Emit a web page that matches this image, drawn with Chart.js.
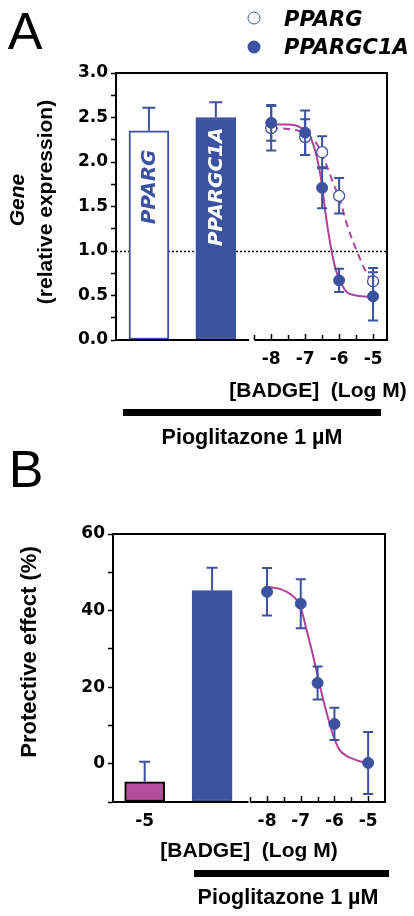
<!DOCTYPE html>
<html>
<head>
<meta charset="utf-8">
<script src="https://cdn.jsdelivr.net/npm/chart.js@4.4.1/dist/chart.umd.min.js"></script>
<style>
html,body{margin:0;padding:0;background:#fff;}
body{width:414px;height:916px;position:relative;overflow:hidden;font-family:'Liberation Sans',Arial,sans-serif;color:#000;}
canvas{position:absolute;left:0;}
.t{position:absolute;line-height:1;white-space:nowrap;transform:translate(-50%,-50%);}
.l{position:absolute;line-height:1;white-space:nowrap;transform:translate(0,-50%);}
.v{transform:translate(-50%,-50%) rotate(-90deg);}
.panel{font-size:52px;font-weight:normal;}
.bold{font-weight:bold;}
.leg{font-family:'DejaVu Sans',sans-serif;font-weight:bold;font-style:italic;font-size:21px;}
.dot{position:absolute;width:13px;height:13px;border-radius:50%;box-sizing:border-box;transform:translate(-50%,-50%);}
.bar{position:absolute;background:#000;}
</style>
</head>
<body>
<canvas id="chartA" width="414" height="380" style="top:0"></canvas>
<canvas id="chartB" width="414" height="380" style="top:460px"></canvas>

<div class="t panel" style="left:25px;top:31px">A</div>
<div class="dot" style="left:254px;top:18px;border:1.5px solid #3b52a0;background:#fff"></div>
<div class="l leg" style="left:284px;top:19px">PPARG</div>
<div class="dot" style="left:254px;top:47px;background:#3b52a0"></div>
<div class="l leg" style="left:284px;top:47px">PPARGC1A</div>

<div class="t v bold" style="left:16px;top:200px;font-size:21px;font-style:italic">Gene</div>
<div class="t v bold" style="left:44px;top:202px;font-size:21px">(relative expression)</div>
<div class="t bold" style="left:318px;top:389px;font-size:21px">[BADGE]&nbsp; (Log M)</div>
<div class="bar" style="left:123px;top:409px;width:258px;height:7px"></div>
<div class="t bold" style="left:252px;top:438px;font-size:21.5px">Pioglitazone 1 µM</div>

<div class="t panel" style="left:26px;top:469px">B</div>
<div class="t v bold" style="left:29px;top:652px;font-size:22px">Protective effect (%)</div>
<div class="t bold" style="left:249px;top:849px;font-size:21px">[BADGE]&nbsp; (Log M)</div>
<div class="bar" style="left:194px;top:870px;width:195px;height:7px"></div>
<div class="t bold" style="left:288px;top:898px;font-size:21.5px">Pioglitazone 1 µM</div>

<script>
// ---------- Panel A data ----------
const doseLogA = [-8, -7, -6.5, -6, -5];
const ppargMean = [2.38, 2.28, 2.11, 1.62, 0.66];
const ppargErr = [0.25, 0.20, 0.18, 0.20, 0.15];
const ppargc1aMean = [2.44, 2.33, 1.71, 0.67, 0.49];
const ppargc1aErr = [0.20, 0.25, 0.23, 0.13, 0.27];
const barGenesA = ['PPARG', 'PPARGC1A'];
const barMeanA = [2.35, 2.50];
const barErrA = [0.26, 0.17];
const barSlotsA = [-11.6, -9.63];
const ppargFitX = [-8, -7.5, -7.06, -6.65, -6.41, -6.17, -5.97, -5.78, -5.49, -5.2, -5];
const ppargFitY = [2.38, 2.37, 2.33, 2.20, 2.00, 1.76, 1.57, 1.31, 1.01, 0.76, 0.64];
const ppargc1aFitX = [-8, -7.5, -7.15, -6.85, -6.66, -6.51, -6.41, -6.26, -6.12, -6.0, -5.78, -5.5, -5.25, -5];
const ppargc1aFitY = [2.42, 2.42, 2.39, 2.28, 2.06, 1.76, 1.45, 1.08, 0.82, 0.69, 0.54, 0.50, 0.49, 0.48];
const doseTickValues = [-8, -7, -6, -5];
const refLevelA = 1.0;

// ---------- Panel B data ----------
const doseLogB = [-8, -7, -6.5, -6, -5];
const protectMean = [44.9, 41.8, 21.1, 10.4, 0.2];
const protectErr = [6.2, 6.4, 4.3, 4.2, 8.1];
const barGroupsB = ['BADGE 10 µM', 'Pioglitazone 1 µM'];
const barMeanB = [-4.7, 45.2];
const barErrB = [5.2, 6.0];
const barSlotsB = [-11.63, -9.63];
const barTickLabelsB = ['-5', ''];
const protectFitX = [-8, -7.6, -7.31, -7.02, -6.82, -6.62, -6.42, -6.22, -6.0, -5.83, -5.63, -5.43, -5.2, -5];
const protectFitY = [46.2, 45.6, 44.3, 41.3, 34.7, 27.7, 19.9, 12.9, 6.5, 3.4, 2.0, 1.2, 0.5, 0.1];

// ---------- styles ----------
const BLUE = '#3b52a0', MAGENTA = '#b0419a', PINK = '#b44d9b';
const TICK_FONT = {family: 'DejaVu Sans', weight: 'bold', size: 17};

const xy = (xs, ys) => xs.map((x, i) => ({x: x, y: ys[i]}));

function drawErrors(chart, index) {
  const ds = chart.data.datasets[index];
  const meta = chart.getDatasetMeta(index);
  const ys = chart.scales.y, ctx = chart.ctx;
  ctx.save();
  ctx.strokeStyle = ds.errColor || BLUE;
  ctx.lineWidth = 2;
  meta.data.forEach((el, j) => {
    const v = ds.data[j].y, e = ds.errors[j];
    const x = el.x, cap = ds.capHalf || 5;
    const top = ys.getPixelForValue(v + e);
    const bot = ys.getPixelForValue(ds.errMode === 'up' ? v : v - e);
    ctx.beginPath();
    ctx.moveTo(x, top); ctx.lineTo(x, bot);
    ctx.moveTo(x - cap, top); ctx.lineTo(x + cap, top);
    if (ds.errMode !== 'up') { ctx.moveTo(x - cap, bot); ctx.lineTo(x + cap, bot); }
    ctx.stroke();
  });
  ctx.restore();
}

const errorPlugin = {
  id: 'errbars',
  beforeDatasetDraw(chart, args) {
    const ds = chart.data.datasets[args.index];
    if (ds.errors && ds.errMode === 'both') drawErrors(chart, args.index);
  },
  afterDatasetDraw(chart, args) {
    const ds = chart.data.datasets[args.index];
    if (ds.errors && ds.errMode === 'up') drawErrors(chart, args.index);
    if (ds.inLabels) {
      const meta = chart.getDatasetMeta(args.index);
      const ctx = chart.ctx;
      const yp = chart.scales.y.getPixelForValue(ds.inLabelLevel);
      meta.data.forEach((el, j) => {
        ctx.save();
        ctx.translate(el.x + 1, yp);
        ctx.rotate(-Math.PI / 2);
        ctx.font = 'italic bold 20px "DejaVu Sans"';
        ctx.fillStyle = ds.inLabelColors[j];
        ctx.textAlign = 'center';
        ctx.textBaseline = 'middle';
        ctx.fillText(ds.inLabels[j], 0, 0);
        ctx.restore();
      });
    }
  }
};

const framePlugin = {
  id: 'frame',
  beforeDatasetsDraw(chart, args, opts) {
    if (opts.refLevel == null) return;
    const {ctx, chartArea: a, scales: {y}} = chart;
    const py = Math.round(y.getPixelForValue(opts.refLevel)) + 0.5;
    ctx.save();
    ctx.strokeStyle = '#000'; ctx.lineWidth = 1.5; ctx.setLineDash([2, 2]);
    ctx.beginPath(); ctx.moveTo(a.left, py); ctx.lineTo(a.right, py); ctx.stroke();
    ctx.restore();
  },
  afterDraw(chart, args, opts) {
    const {ctx, chartArea: a, scales: {x}} = chart;
    ctx.save();
    ctx.strokeStyle = '#000';
    ctx.lineWidth = 2;
    ctx.beginPath();
    ctx.moveTo(a.left - 1, a.top); ctx.lineTo(a.right, a.top); ctx.lineTo(a.right, a.bottom + 1);
    ctx.stroke();
    const s1 = x.getPixelForValue(opts.barEnd), s2 = x.getPixelForValue(opts.doseStart);
    ctx.beginPath();
    ctx.moveTo(a.left - 1, a.bottom); ctx.lineTo(s1, a.bottom);
    ctx.moveTo(s2, a.bottom); ctx.lineTo(a.right + 1, a.bottom);
    ctx.stroke();
    ctx.lineWidth = 1.5;
    ctx.beginPath();
    for (let v = opts.doseStart; v <= opts.doseEnd + 1e-9; v += 0.5) {
      const px = Math.round(x.getPixelForValue(v)) + 0.5;
      const len = Math.abs(v - Math.round(v)) < 1e-9 ? 6 : 5;
      ctx.moveTo(px, a.bottom); ctx.lineTo(px, a.bottom - len);
    }
    ctx.stroke();
    ctx.restore();
  }
};

function baseOptions(cfg) {
  return {
    responsive: false,
    animation: false,
    devicePixelRatio: 1,
    events: [],
    layout: {autoPadding: false, padding: cfg.padding},
    plugins: {legend: {display: false}, tooltip: {enabled: false}, frame: cfg.frame},
    scales: {
      x: {
        type: 'linear', min: cfg.xmin, max: cfg.xmax, offset: false,
        grid: {display: false, drawTicks: false},
        border: {display: false},
        afterBuildTicks: (axis) => { axis.ticks = cfg.xTicks.map(v => ({value: v})); },
        afterFit: (axis) => { axis.height = cfg.xHeight; },
        ticks: {
          font: TICK_FONT, color: '#000', padding: cfg.xPad, autoSkip: false, maxRotation: 0,
          callback: cfg.xLabel
        }
      },
      y: {
        type: 'linear', min: cfg.ymin, max: cfg.ymax,
        grid: {drawOnChartArea: false, drawTicks: true, tickLength: 5, tickColor: '#000', tickWidth: 1.5},
        border: {display: true, color: '#000', width: 2},
        afterFit: (axis) => { axis.width = cfg.yWidth; },
        ticks: {
          stepSize: cfg.step, autoSkip: false, font: TICK_FONT, color: '#000', padding: 3,
          callback: cfg.yLabel
        }
      }
    }
  };
}

// ---------- Chart A ----------
new Chart(document.getElementById('chartA'), {
  type: 'scatter',
  data: {
    datasets: [
      {
        type: 'scatter', label: 'PPARGC1A', order: 0,
        data: xy(doseLogA, ppargc1aMean), errors: ppargc1aErr, errMode: 'both', capHalf: 5,
        pointRadius: 5.5, backgroundColor: BLUE, borderColor: BLUE, borderWidth: 1
      },
      {
        type: 'scatter', label: 'PPARG', order: 1,
        data: xy(doseLogA, ppargMean), errors: ppargErr, errMode: 'both', capHalf: 5,
        pointRadius: 5.5, backgroundColor: '#fff', borderColor: BLUE, borderWidth: 1.3
      },
      {
        type: 'line', label: 'PPARGC1A fit', order: 2,
        data: xy(ppargc1aFitX, ppargc1aFitY), borderColor: MAGENTA, borderWidth: 2,
        pointRadius: 0, cubicInterpolationMode: 'monotone', fill: false
      },
      {
        type: 'line', label: 'PPARG fit', order: 3,
        data: xy(ppargFitX, ppargFitY), borderColor: MAGENTA, borderWidth: 2, borderDash: [7, 5],
        pointRadius: 0, cubicInterpolationMode: 'monotone', fill: false
      },
      {
        type: 'bar', label: 'Pioglitazone alone', order: 4,
        data: xy(barSlotsA, barMeanA), errors: barErrA, errMode: 'up', capHalf: 6.5,
        backgroundColor: ['#fff', BLUE], borderColor: BLUE, borderWidth: 2, borderSkipped: false,
        barThickness: 40,
        inLabels: barGenesA, inLabelLevel: 1.72, inLabelColors: [BLUE, '#fff']
      }
    ]
  },
  options: baseOptions({
    padding: {left: 0, top: 73, right: 27, bottom: 0},
    xmin: -12.57, xmax: -4.59, xHeight: 40, xPad: 9,
    xTicks: doseTickValues,
    xLabel: (v) => String(v),
    ymin: 0, ymax: 3, step: 0.25, yWidth: 116,
    yLabel: (v) => Math.abs(v * 2 - Math.round(v * 2)) < 1e-9 ? v.toFixed(1) : '',
    frame: {barEnd: -8.65, doseStart: -8.5, doseEnd: -5, refLevel: refLevelA}
  }),
  plugins: [errorPlugin, framePlugin]
});

// ---------- Chart B ----------
new Chart(document.getElementById('chartB'), {
  type: 'scatter',
  data: {
    datasets: [
      {
        type: 'scatter', label: 'BADGE + Pioglitazone', order: 0,
        data: xy(doseLogB, protectMean), errors: protectErr, errMode: 'both', capHalf: 5,
        pointRadius: 5.5, backgroundColor: BLUE, borderColor: BLUE, borderWidth: 1
      },
      {
        type: 'line', label: 'fit', order: 1,
        data: xy(protectFitX, protectFitY), borderColor: MAGENTA, borderWidth: 2,
        pointRadius: 0, cubicInterpolationMode: 'monotone', fill: false
      },
      {
        type: 'bar', label: 'controls', order: 2,
        data: xy(barSlotsB, barMeanB), errors: barErrB, errMode: 'up', capHalf: 5.5,
        backgroundColor: [PINK, BLUE], borderColor: ['#000', BLUE], borderWidth: 2, borderSkipped: false,
        barThickness: 40, base: -10
      }
    ]
  },
  options: baseOptions({
    padding: {left: 0, top: 74, right: 29, bottom: 0},
    xmin: -12.57, xmax: -4.5, xHeight: 38, xPad: 9,
    xTicks: [barSlotsB[0]].concat(doseTickValues),
    xLabel: (v) => (v === barSlotsB[0] ? barTickLabelsB[0] : String(v)),
    ymin: -10, ymax: 60, step: 10, yWidth: 113,
    yLabel: (v) => (v % 20 === 0 ? String(v) : ''),
    frame: {barEnd: -8.55, doseStart: -8.5, doseEnd: -5, refLevel: null}
  }),
  plugins: [errorPlugin, framePlugin]
});
</script>
</body>
</html>
